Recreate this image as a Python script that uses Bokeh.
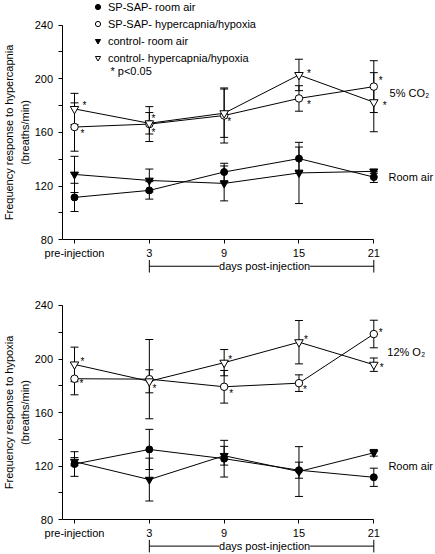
from bokeh.plotting import figure
from bokeh.models import (ColumnDataSource, Whisker, TeeHead, FixedTicker, Legend,
                          LegendItem, Label, Range1d)
from bokeh.layouts import column
from bokeh.embed import file_html
from bokeh.resources import INLINE
from bokeh.core.properties import value

# ---------------- data ----------------
x_labels = ["pre-injection", "3", "9", "15", "21"]
x_idx = [0, 1, 2, 3, 4]
y_ticks = [80, 100, 120, 140, 160, 180, 200, 220, 240]
y_tick_labels = ["80", "", "120", "", "160", "", "200", "", "240"]

series_names = ["SP-SAP- room air", "SP-SAP- hypercapnia/hypoxia",
                "control- room air", "control- hypercapnia/hypoxia"]

# Top panel: frequency response to hypercapnia (5% CO2)
hc_sap_room = [111.6, 116.8, 130.5, 140.5, 126.7]
hc_sap_room_se = [10.5, 6.5, 6.5, 8.6, 4.0]
hc_sap_gas = [164.0, 166.2, 172.6, 185.3, 194.1]
hc_sap_gas_se = [18.0, 13.0, 20.5, 9.5, 19.3]
hc_ctl_room = [128.7, 124.2, 122.0, 129.8, 131.0]
hc_ctl_room_se = [13.5, 8.5, 13.0, 22.8, 1.5]
hc_ctl_gas = [177.5, 166.8, 174.3, 202.8, 182.5]
hc_ctl_gas_se = [11.6, 8.0, 18.0, 11.7, 22.0]

# Bottom panel: frequency response to hypoxia (12% O2)
hx_sap_room = [121.6, 132.5, 125.6, 117.0, 111.7]
hx_sap_room_se = [9.2, 15.0, 13.7, 6.0, 6.8]
hx_sap_gas = [185.3, 185.0, 179.3, 182.0, 218.7]
hx_sap_gas_se = [12.0, 29.6, 12.2, 6.2, 10.3]
hx_ctl_room = [123.4, 110.0, 127.8, 116.0, 130.0]
hx_ctl_room_se = [3.0, 16.0, 7.0, 18.6, 2.5]
hx_ctl_gas = [196.0, 183.4, 197.3, 212.6, 195.8]
hx_ctl_gas_se = [12.9, 8.6, 9.8, 16.2, 5.0]

# points marked significant (* p<0.05)
hc_sig_sap = [0, 1, 2, 3, 4]
hc_sig_ctl = [0, 1, 3, 4]
hx_sig_sap = [0, 1, 2, 3, 4]
hx_sig_ctl = [0, 2, 3, 4]

FONT = "Liberation Sans"


def make_panel(sap_room, sap_room_se, sap_gas, sap_gas_se, ctl_room, ctl_room_se,
               ctl_gas, ctl_gas_se, sig_sap, sig_ctl, star_sap_off, star_ctl_off,
               height, y_start, y_end, ylabel, gas_text, gas_pos, room_pos, with_legend):
    p = figure(width=435, height=height, x_range=Range1d(-0.989, 4.8245),
               y_range=Range1d(y_start, y_end), output_backend="svg",
               toolbar_location=None, min_border=0, outline_line_color=None)
    p.grid.visible = False
    p.background_fill_color = "white"
    p.border_fill_color = "white"

    # axes
    xa = p.xaxis[0]
    ya = p.yaxis[0]
    xa.fixed_location = 80
    xa.bounds = (-0.167, 4)
    ya.fixed_location = -0.167
    ya.bounds = (80, 240)
    xa.ticker = FixedTicker(ticks=x_idx)
    xa.major_label_overrides = {i: s for i, s in zip(x_idx, x_labels)}
    ya.ticker = FixedTicker(ticks=y_ticks)
    ya.major_label_overrides = {t: s for t, s in zip(y_ticks, y_tick_labels)}
    for ax in (xa, ya):
        ax.axis_line_color = "black"
        ax.axis_line_width = 1
        ax.major_tick_line_color = "black"
        ax.major_tick_in = 0
        ax.major_tick_out = 4
        ax.minor_tick_line_color = None
        ax.major_label_text_font = FONT
        ax.major_label_text_font_size = "11px"
        ax.major_label_text_color = "black"
    xa.major_label_standoff = 3
    ya.major_label_standoff = 5
    ya.axis_label = ylabel
    ya.axis_label_text_font = FONT
    ya.axis_label_text_font_size = "11px"
    ya.axis_label_text_font_style = "normal"
    ya.axis_label_text_color = "black"
    ya.axis_label_standoff = 1
    ya.axis_label_text_line_height = 1.36

    specs = [
        (sap_room, sap_room_se, "circle", "black", 7),
        (sap_gas, sap_gas_se, "circle", "white", 7.5),
        (ctl_room, ctl_room_se, "inverted_triangle", "black", 8),
        (ctl_gas, ctl_gas_se, "inverted_triangle", "white", 8.5),
    ]
    # connecting lines
    for m, se, mk, fill, sz in specs:
        p.line(x_idx, m, line_color="black", line_width=1)
    # error bars
    for m, se, mk, fill, sz in specs:
        src = ColumnDataSource(dict(x=x_idx,
                                    upper=[a + b for a, b in zip(m, se)],
                                    lower=[a - b for a, b in zip(m, se)]))
        w = Whisker(base="x", upper="upper", lower="lower", source=src,
                    line_color="black", line_width=1,
                    upper_head=TeeHead(size=8, line_color="black", line_width=1),
                    lower_head=TeeHead(size=8, line_color="black", line_width=1))
        p.add_layout(w)
    # markers
    rends = []
    for m, se, mk, fill, sz in specs:
        r = p.scatter(x_idx, m, marker=mk, size=sz, fill_color=fill,
                      line_color="black", line_width=1)
        rends.append(r)

    # significance asterisks
    sx, sy, dx, dy = [], [], [], []
    for idx, off, m in ((sig_sap, star_sap_off, sap_gas), (sig_ctl, star_ctl_off, ctl_gas)):
        for i, (ox, oy) in zip(idx, off):
            sx.append(x_idx[i]); sy.append(m[i]); dx.append(ox); dy.append(oy + 2)
    p.text(x=sx, y=sy, x_offset=dx, y_offset=dy, text=value("*"),
           text_font=value(FONT), text_font_size="10px", text_align="center",
           text_baseline="middle", text_color="black")

    # condition labels
    p.add_layout(Label(x=gas_pos[0], y=gas_pos[1], text=gas_text, text_font=FONT,
                       text_font_size="11px", text_baseline="middle", text_color="black"))
    p.add_layout(Label(x=room_pos[0], y=room_pos[1], text="Room air", text_font=FONT,
                       text_font_size="11px", text_baseline="middle", text_color="black"))

    # days post-injection bracket (from day 3 to day 21)
    by = 60.3
    p.segment(x0=[1, 1, 4], y0=[by, by - 4.7, by - 4.7], x1=[4, 1, 4], y1=[by, by + 4.7, by + 4.7],
              line_color="black", line_width=1)
    p.add_layout(Label(x=2.54, y=by, text="days post-injection", text_font=FONT,
                       text_font_size="11px", text_align="center", text_baseline="middle",
                       text_color="black", background_fill_color="white"))

    if with_legend:
        legend = Legend(items=[LegendItem(label=n, renderers=[r]) for n, r in zip(series_names, rends)],
                        location=(91, 217), glyph_width=13, glyph_height=13,
                        label_height=13, spacing=4, padding=0, label_standoff=4,
                        border_line_color=None, background_fill_alpha=0,
                        label_text_font=FONT, label_text_font_size="11px",
                        label_text_color="black")
        p.add_layout(legend)
        p.add_layout(Label(x=0.481, y=206.1, text="* p<0.05", text_font=FONT,
                           text_font_size="11px", text_baseline="middle", text_color="black"))
    return p


top = make_panel(hc_sap_room, hc_sap_room_se, hc_sap_gas, hc_sap_gas_se,
                 hc_ctl_room, hc_ctl_room_se, hc_ctl_gas, hc_ctl_gas_se,
                 hc_sig_sap, hc_sig_ctl,
                 [(8, 4), (4, 6), (5, 4), (10, 4), (7, -8)],
                 [(10, -5), (4, -7), (10, -3), (11, 1)],
                 281, 48.94, 258.25, "Frequency response to hypercapnia\n(breaths/min)",
                 "5% CO\u2082", (4.21, 189.2), (4.196, 126.6), True)

bottom = make_panel(hx_sap_room, hx_sap_room_se, hx_sap_gas, hx_sap_gas_se,
                    hx_ctl_room, hx_ctl_room_se, hx_ctl_gas, hx_ctl_gas_se,
                    hx_sig_sap, hx_sig_ctl,
                    [(7, 3), (5, 7), (7, 5), (6, 4), (7, -4)],
                    [(8, -5), (6, -5), (7, -5), (8, 1)],
                    273, 54.04, 257.92, "Frequency response to hypoxia\n(breaths/min)",
                    "12% O\u2082", (4.18, 205.6), (4.195, 119.8), False)

layout = column(top, bottom, spacing=0)
open("out.html", "w").write(file_html(layout, INLINE))
